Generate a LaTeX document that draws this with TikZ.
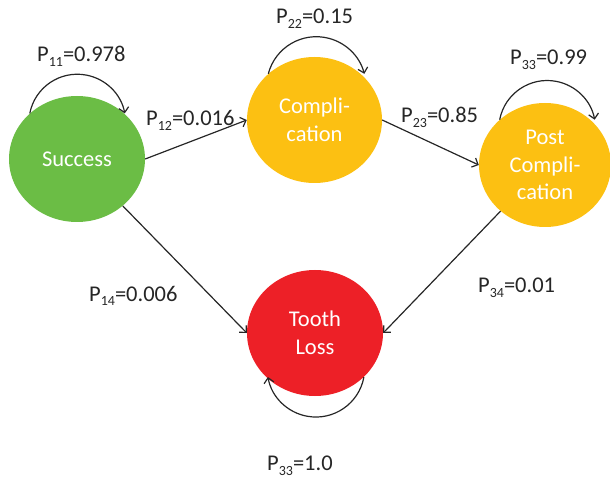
\documentclass[tikz,border=0pt]{standalone}
\usepackage{fontspec}
\setmainfont{Carlito}
\usetikzlibrary{shapes.geometric,arrows.meta}

\definecolor{stgreen}{RGB}{107,189,69}
\definecolor{styellow}{RGB}{252,192,18}
\definecolor{stred}{RGB}{237,32,39}

\tikzset{
  state/.style={ellipse, inner sep=0pt, text=white, align=center,
    font=\fontsize{22.5}{27.5}\selectfont},
  prob/.style={anchor=base west, inner sep=0pt, text=black!85,
    font=\fontsize{22.5}{27}\selectfont},
  trans/.style={draw=black!85, line width=1.2pt,
    -{Straight Barb[length=5pt,width=10pt]}},
}
% probability label with a lowered, smaller index
\newcommand{\pr}[2]{P\raisebox{-5pt}{\fontsize{14}{14}\selectfont #1}=#2}

\begin{document}
\begin{tikzpicture}[x=1pt,y=1pt]
\useasboundingbox (0,0) rectangle (610,477);

% states of the Markov chain
\node[state, fill=stgreen, minimum width=136pt, minimum height=126pt] (s) at (77,318) {Success};
\node[state, fill=styellow, minimum width=135pt, minimum height=126pt] (c) at (314.5,357) {Compli-\\cation};
\node[state, fill=styellow, minimum width=132pt, minimum height=124pt] (p) at (545,312) {Post\\Compli-\\cation};
\node[state, fill=stred, minimum width=136pt, minimum height=126pt] (t) at (315,144) {Tooth\\Loss};

% transitions between states
\draw[trans] (s.east) -- (c.west);
\draw[trans] (c.east) -- (p.west);
\draw[trans] (s) -- (t.west);
\draw[trans] (p) -- (t.east);

% self loops
\draw[trans] (s.136) arc[start angle=169, end angle=11, radius=48.4pt];
\draw[trans] (c.135) arc[start angle=165.4, end angle=14.6, radius=49.6pt];
\draw[trans] (p.135) arc[start angle=169, end angle=11, radius=48.4pt];
\draw[trans] (t.-42) arc[start angle=-10.4, end angle=-169.6, radius=48.8pt];

% transition probabilities
\node[prob] (l11) at (37,415) {\pr{11}{0.978}};
\node[prob] (l22) at (276,453) {\pr{22}{0.15}};
\node[prob] (l12) at (146,351) {\pr{12}{0.016}};
\node[prob] (l23) at (401,354) {\pr{23}{0.85}};
\node[prob] (l33) at (510,412) {\pr{33}{0.99}};
\node[prob] (l14) at (89,176) {\pr{14}{0.006}};
\node[prob] (l34) at (478,185) {\pr{34}{0.01}};
\node[prob] (l44) at (267,7) {\pr{33}{1.0}};
\end{tikzpicture}
\end{document}
